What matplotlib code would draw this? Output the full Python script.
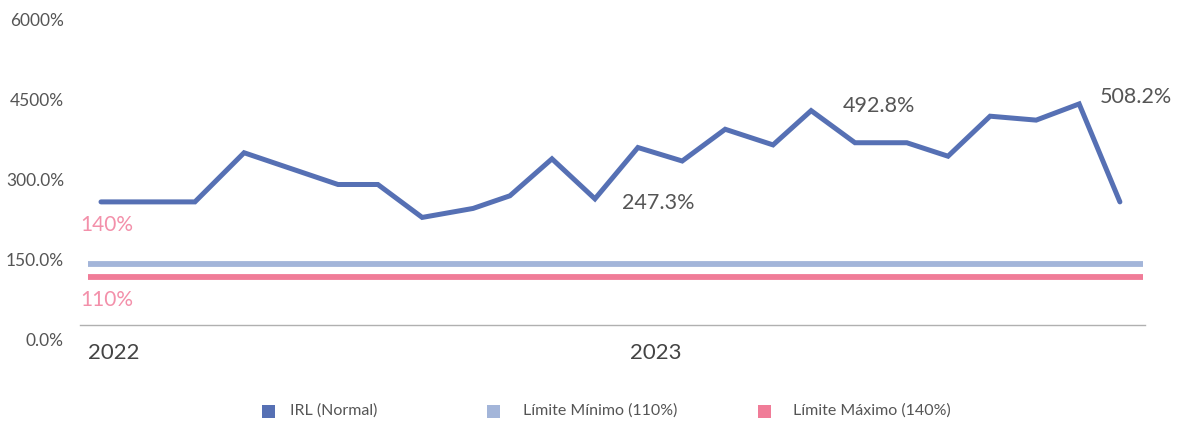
import matplotlib
matplotlib.use("Agg")
import matplotlib.pyplot as plt
from matplotlib.patches import Rectangle

plt.rcParams["font.family"] = ["Lato", "DejaVu Sans"]

months = [0.00, 2.12, 3.23, 5.35, 6.25, 7.25, 8.40, 9.23, 10.18, 11.15, 12.12,
          13.12, 14.09, 15.17, 16.03, 17.02, 18.19, 19.12, 20.07, 21.11, 22.08, 23.00]
irl = [283, 283, 396, 323, 323, 247.3, 268, 297, 382, 290, 408,
       377, 450, 414, 492.8, 419, 419, 388, 480, 471, 508.2, 283]
limit_low = 110
limit_high = 140
ytick_vals = [0, 150, 300, 450, 600]
ytick_labels = ["0.0%", "150.0%", "300.0%", "4500%", "6000%"]
years = ["2022", "2023"]
legend_labels = ["IRL (Normal)", "Límite Mínimo (110%)", "Límite Máximo (140%)"]

BLUE = "#5670b4"
LIGHT = "#a3b5d9"
PINK = "#f07c98"
PINK_TXT = "#f390aa"
GREY_TXT = "#555555"

W, H = 1180, 425
fig = plt.figure(figsize=(W / 100, H / 100), dpi=100)

# pixel helpers, layout only
step = 44.3
x0 = 101
px_per_pct = 0.435


def fx(px):
    return px / W


def fy(py):
    return 1 - py / H


def dx(px):
    return (px - x0) / step


def dy(py):
    return (325 - py) / px_per_pct


ax = fig.add_axes([fx(80), fy(325), (1145 - 80) / W, 305 / H])
ax.set_xlim(dx(80), dx(1145))
ax.set_ylim(0, 305 / px_per_pct)

ax.plot(months, irl, color=BLUE, lw=3.6, solid_joinstyle="miter", solid_capstyle="round", zorder=3)
ax.hlines(limit_high, dx(88), dx(1143), color=LIGHT, lw=4.2, zorder=2)
ax.hlines(limit_low, dx(88), dx(1143), color=PINK, lw=4.2, zorder=2)

for s in ["top", "right", "left"]:
    ax.spines[s].set_visible(False)
ax.spines["bottom"].set_color("#b0b0b0")
ax.spines["bottom"].set_linewidth(1)
ax.set_xticks([])
ax.set_yticks([])

ax.text(dx(80), dy(225), f"{limit_high}%", color=PINK_TXT, fontsize=15, ha="left", va="center")
ax.text(dx(80), dy(300), f"{limit_low}%", color=PINK_TXT, fontsize=15, ha="left", va="center")

ax.text(dx(622), dy(203), f"{irl[5]:.1f}%", color=GREY_TXT, fontsize=15.5, ha="left", va="center")
ax.text(dx(843), dy(106), f"{irl[14]:.1f}%", color=GREY_TXT, fontsize=15.5, ha="left", va="center")
ax.text(dx(1100), dy(97), f"{irl[20]:.1f}%", color=GREY_TXT, fontsize=15.5, ha="left", va="center")

fig.text(fx(88), fy(353), years[0], color="#444444", fontsize=16, ha="left", va="center")
fig.text(fx(630), fy(353), years[1], color="#444444", fontsize=16, ha="left", va="center")

# y labels sit on their own scale
lab = fig.add_axes([fx(64), fy(340), 0.0005, 320 / H])
lab.set_ylim(0, 600)
lab.set_yticks(ytick_vals)
lab.set_yticklabels(ytick_labels, color=GREY_TXT, fontsize=12.5)
lab.tick_params(axis="y", length=0, pad=0)
lab.set_xticks([])
lab.set_frame_on(False)

# legend
for px, tx, col, label in zip([262, 487, 758], [290, 523, 793], [BLUE, LIGHT, PINK], legend_labels):
    fig.add_artist(Rectangle((fx(px), fy(418)), 13 / W, 13 / H, transform=fig.transFigure,
                             color=col, lw=0))
    fig.text(fx(tx), fy(411), label, color=GREY_TXT, fontsize=11.5, ha="left", va="center")

fig.savefig("out.png", dpi=100)
